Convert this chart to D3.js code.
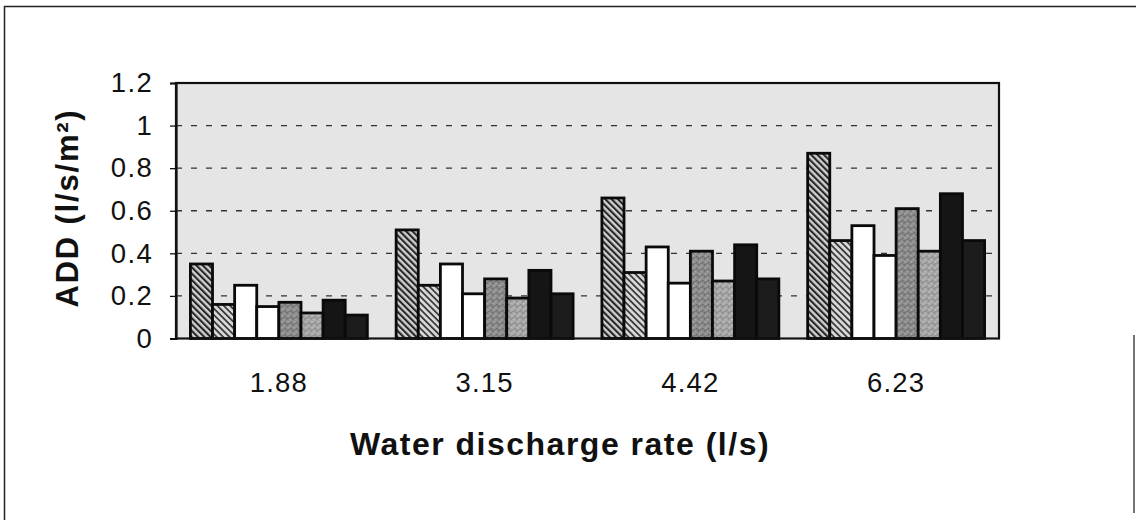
<!DOCTYPE html>
<html>
<head>
<meta charset="utf-8">
<script src="https://cdn.jsdelivr.net/npm/d3@7"></script>
<style>
  html, body { margin: 0; padding: 0; background: #fff; }
  svg { display: block; font-family: "Liberation Sans", Arial, Helvetica, sans-serif; }
</style>
</head>
<body>
<svg id="chart" width="1136" height="520"></svg>
<script>
// Discharge rates on the x axis
const categories = ["1.88", "3.15", "4.42", "6.23"];

// ADD values (l/s/m²) for each of the eight bar series
const hatchTall  = [0.35, 0.51, 0.66, 0.87];
const hatchShort = [0.16, 0.25, 0.31, 0.46];
const whiteTall  = [0.25, 0.35, 0.43, 0.53];
const whiteShort = [0.15, 0.21, 0.26, 0.39];
const grayTall   = [0.17, 0.28, 0.41, 0.61];
const grayShort  = [0.12, 0.19, 0.27, 0.41];
const blackTall  = [0.18, 0.32, 0.44, 0.68];
const blackShort = [0.11, 0.21, 0.28, 0.46];

const yTicks = [0, 0.2, 0.4, 0.6, 0.8, 1, 1.2];
const yTickLabels = ["0", "0.2", "0.4", "0.6", "0.8", "1", "1.2"];

const seriesNames = ["hatchTall", "hatchShort", "whiteTall", "whiteShort",
                     "grayTall", "grayShort", "blackTall", "blackShort"];
const seriesValues = [hatchTall, hatchShort, whiteTall, whiteShort,
                      grayTall, grayShort, blackTall, blackShort];
const seriesFill = ["url(#hatchDark)", "url(#hatchLight)", "#ffffff", "#ffffff",
                    "url(#stippleDark)", "url(#stippleLight)", "#151515", "#1c1c1c"];

const svg = d3.select("#chart");

// Outer frame of the figure
svg.append("path")
  .attr("d", "M4.5,520 L4.5,6.5 L1136,6.5")
  .attr("fill", "none").attr("stroke", "#222").attr("stroke-width", 1.5);
svg.append("line")
  .attr("x1", 1134).attr("x2", 1134).attr("y1", 335).attr("y2", 513)
  .attr("stroke", "#444").attr("stroke-width", 1.5);

// Fill patterns
const defs = svg.append("defs");
function hatch(id, bg, fg, w) {
  const p = defs.append("pattern").attr("id", id)
    .attr("patternUnits", "userSpaceOnUse").attr("width", 4.5).attr("height", 4.5)
    .attr("patternTransform", "rotate(-45)");
  p.append("rect").attr("width", 4.5).attr("height", 4.5).attr("fill", bg);
  p.append("rect").attr("x", 0).attr("width", w).attr("height", 4.5).attr("fill", fg);
}
hatch("hatchDark", "#d0d0d0", "#262626", 2.1);
hatch("hatchLight", "#d8d8d8", "#3c3c3c", 1.8);

function stipple(id, base, dots) {
  const p = defs.append("pattern").attr("id", id)
    .attr("patternUnits", "userSpaceOnUse").attr("width", 6).attr("height", 6);
  p.append("rect").attr("width", 6).attr("height", 6).attr("fill", base);
  dots.forEach(d => p.append("rect").attr("x", d[0]).attr("y", d[1])
    .attr("width", 1.5).attr("height", 1.5).attr("fill", d[2]));
}
stipple("stippleDark", "#8a8a8a",
  [[0, 0, "#666"], [3, 1, "#aaa"], [1, 3, "#b0b0b0"], [4, 4, "#6c6c6c"], [2, 5, "#737373"]]);
stipple("stippleLight", "#a4a4a4",
  [[0, 0, "#858585"], [3, 1, "#c2c2c2"], [1, 3, "#c6c6c6"], [4, 4, "#898989"], [2, 5, "#8e8e8e"]]);

// Plot area bounds
const plotLeft = 176, plotRight = 999, plotTop = 83, plotBottom = 338.5;

const x0 = d3.scaleBand().domain(categories).range([plotLeft, plotRight])
  .paddingInner(0.14).paddingOuter(0.07);
const x1 = d3.scaleBand().domain(seriesNames).range([0, x0.bandwidth()]);
const y = d3.scaleLinear().domain([0, 1.2]).range([plotBottom, plotTop]);

svg.append("rect")
  .attr("x", plotLeft).attr("y", plotTop)
  .attr("width", plotRight - plotLeft).attr("height", plotBottom - plotTop)
  .attr("fill", "#e5e5e5");

// Dashed gridlines
svg.append("g").selectAll("line")
  .data(yTicks.filter(v => v > 0 && v < 1.2))
  .join("line")
  .attr("x1", plotLeft).attr("x2", plotRight)
  .attr("y1", d => y(d)).attr("y2", d => y(d))
  .attr("stroke", "#333").attr("stroke-width", 1.4)
  .attr("stroke-dasharray", "6,9");

// Bars
const groups = svg.append("g").selectAll("g")
  .data(categories)
  .join("g")
  .attr("transform", d => `translate(${x0(d)},0)`);

groups.selectAll("rect")
  .data((c, i) => seriesNames.map((s, k) => ({ s, k, v: seriesValues[k][i] })))
  .join("rect")
  .attr("x", d => x1(d.s))
  .attr("y", d => y(d.v))
  .attr("width", x1.bandwidth())
  .attr("height", d => y(0) - y(d.v))
  .attr("fill", d => seriesFill[d.k])
  .attr("stroke", "#0a0a0a")
  .attr("stroke-width", 2.8);

// Plot frame
svg.append("rect")
  .attr("x", plotLeft).attr("y", plotTop)
  .attr("width", plotRight - plotLeft).attr("height", plotBottom - plotTop)
  .attr("fill", "none").attr("stroke", "#111").attr("stroke-width", 2.2);

// Y axis
const yAxis = d3.axisLeft(y).tickValues(yTicks)
  .tickFormat((d, i) => yTickLabels[i]).tickSize(6).tickPadding(17);
const gy = svg.append("g").attr("transform", `translate(${plotLeft},0)`).call(yAxis);
gy.select(".domain").attr("stroke", "#111").attr("stroke-width", 2.2);
gy.selectAll(".tick line").attr("stroke", "#111").attr("stroke-width", 1.3);
gy.selectAll(".tick text").attr("font-size", 27.5).attr("letter-spacing", 1.3)
  .attr("fill", "#111").attr("font-family", "Liberation Sans, Arial, sans-serif");

// X axis labels
const xAxis = d3.axisBottom(x0).tickSize(0).tickPadding(34);
const gx = svg.append("g").attr("transform", `translate(0,${plotBottom})`).call(xAxis);
gx.select(".domain").remove();
gx.selectAll(".tick text").attr("font-size", 27.5).attr("letter-spacing", 1.2)
  .attr("fill", "#111").attr("font-family", "Liberation Sans, Arial, sans-serif");

// Axis titles
svg.append("text")
  .attr("x", 560).attr("y", 455)
  .attr("text-anchor", "middle")
  .attr("font-size", 32).attr("letter-spacing", 1.5)
  .attr("font-weight", "bold").attr("fill", "#111")
  .text("Water discharge rate (l/s)");

svg.append("text")
  .attr("transform", "translate(78,208) rotate(-90)")
  .attr("text-anchor", "middle")
  .attr("font-size", 31).attr("letter-spacing", 1.8)
  .attr("font-weight", "bold").attr("fill", "#111")
  .text("ADD (l/s/m²)");
</script>
</body>
</html>
